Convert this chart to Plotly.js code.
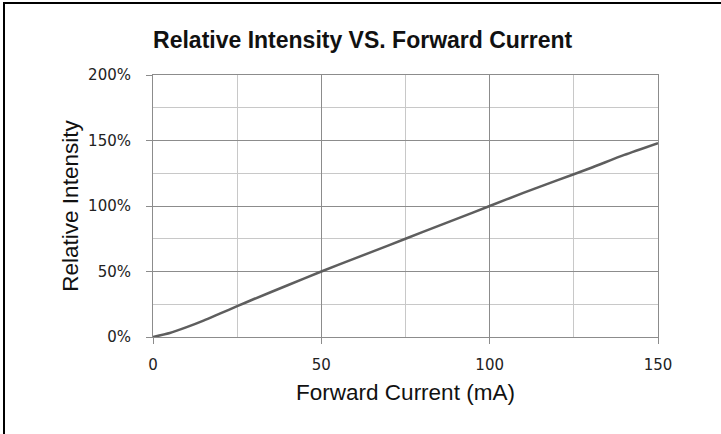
<!DOCTYPE html>
<html>
<head>
<meta charset="utf-8">
<script src="https://cdn.plot.ly/plotly-3.0.1.min.js"></script>
<style>
  html, body { margin: 0; padding: 0; background: #fff; }
  #wrap { position: relative; width: 721px; height: 434px; overflow: hidden; }
  #chart { width: 721px; height: 434px; }
  .bl { position: absolute; left: 3px; top: 2px; width: 2px; height: 432px; background: #000; }
  .bt { position: absolute; left: 3px; top: 2px; width: 718px; height: 2px; background: #000; }
</style>
</head>
<body>
<div id="wrap">
  <div id="chart"></div>
  <div class="bl"></div>
  <div class="bt"></div>
</div>
<script>
// Forward current (mA)
var currentMA = [0, 5, 10, 15, 20, 25, 30, 40, 50, 60, 70, 80, 90, 100, 110, 120, 130, 140, 150];
// Relative intensity (%)
var relIntensity = [0, 3, 7.5, 12.5, 18, 23.5, 29, 39.5, 50, 60, 70, 80, 90, 100, 110, 119.5, 129, 139, 148];

var xTickVals = [0, 50, 100, 150];
var xTickText = ['0', '50', '100', '150'];
var yTickVals = [0, 50, 100, 150, 200];
var yTickText = ['0%', '50%', '100%', '150%', '200%'];

var majorGrid = '#8c8c8c';
var minorGrid = '#c8c8c8';

var trace = {
  x: currentMA,
  y: relIntensity,
  type: 'scatter',
  mode: 'lines',
  line: { color: '#5e5e5e', width: 2.5, shape: 'spline', smoothing: 0.6 },
  hoverinfo: 'skip'
};

var layout = {
  width: 721,
  height: 434,
  margin: { l: 153, r: 63, t: 75, b: 97 },
  paper_bgcolor: '#ffffff',
  plot_bgcolor: '#ffffff',
  showlegend: false,
  title: {
    text: '<b>Relative Intensity VS. Forward Current</b>',
    font: { family: 'Liberation Sans, Arial, sans-serif', size: 23, color: '#111111' },
    x: 0.503, xref: 'container', xanchor: 'center',
    y: 0.908, yref: 'container', yanchor: 'middle'
  },
  xaxis: {
    range: [0, 150],
    fixedrange: true,
    tickmode: 'array',
    tickvals: xTickVals,
    ticktext: xTickText,
    ticks: 'outside',
    ticklen: 6,
    tickwidth: 1,
    tickcolor: majorGrid,
    showgrid: true,
    gridcolor: majorGrid,
    gridwidth: 1,
    minor: { dtick: 25, tick0: 0, showgrid: true, gridcolor: minorGrid, gridwidth: 1, ticks: '' },
    showline: true,
    linecolor: majorGrid,
    linewidth: 1,
    mirror: true,
    zeroline: false,
    ticklabelstandoff: 8,
    tickfont: { family: 'DejaVu Sans, Verdana, sans-serif', size: 15, color: '#222222' },
    title: {
      text: 'Forward Current (mA)',
      font: { family: 'Liberation Sans, Arial, sans-serif', size: 22.5, color: '#111111' },
      standoff: 11
    },
    automargin: false
  },
  yaxis: {
    range: [0, 200],
    fixedrange: true,
    tickmode: 'array',
    tickvals: yTickVals,
    ticktext: yTickText,
    ticks: 'outside',
    ticklen: 6,
    tickwidth: 1,
    tickcolor: majorGrid,
    showgrid: true,
    gridcolor: majorGrid,
    gridwidth: 1,
    minor: { dtick: 25, tick0: 0, showgrid: true, gridcolor: minorGrid, gridwidth: 1, ticks: '' },
    showline: true,
    linecolor: majorGrid,
    linewidth: 1,
    mirror: true,
    zeroline: false,
    ticklabelstandoff: 12,
    tickfont: { family: 'DejaVu Sans, Verdana, sans-serif', size: 15, color: '#222222' },
    title: {
      text: 'Relative Intensity',
      font: { family: 'Liberation Sans, Arial, sans-serif', size: 22.5, color: '#111111' },
      standoff: 3
    },
    automargin: false
  }
};

Plotly.newPlot('chart', [trace], layout, { displayModeBar: false, staticPlot: true });
</script>
</body>
</html>
